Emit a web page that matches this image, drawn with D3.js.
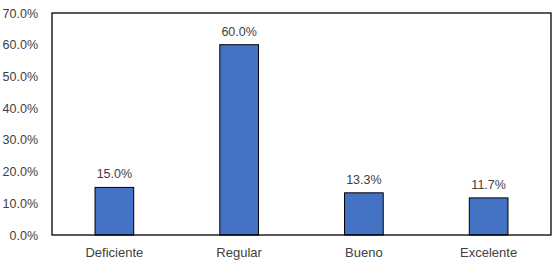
<!DOCTYPE html>
<html>
<head>
<meta charset="utf-8">
<script src="https://cdn.jsdelivr.net/npm/d3@7"></script>
<style>
  body { margin: 0; background: #fff; }
  text { font-family: "Liberation Sans", Arial, sans-serif; fill: #404040; }
</style>
</head>
<body>
<svg id="chart" width="554" height="263"></svg>
<script>
// chart data
const categories = ['Deficiente', 'Regular', 'Bueno', 'Excelente'];
const values = [0.15, 0.60, 0.133, 0.117];
const yTicks = [0, 0.1, 0.2, 0.3, 0.4, 0.5, 0.6, 0.7];

const svg = d3.select('#chart');
const margin = { top: 13, right: 3, bottom: 28, left: 52 };
const width = 554 - margin.left - margin.right;
const height = 263 - margin.top - margin.bottom;

const g = svg.append('g').attr('transform', `translate(${margin.left},${margin.top})`);

const x = d3.scaleBand().domain(categories).range([0, width])
  .paddingInner(0.69).paddingOuter(0.345);
const y = d3.scaleLinear().domain([0, 0.7]).range([height, 0]);

const fmt = d3.format('.1%');

// y tick labels (no tick marks)
const yAxis = g.append('g')
  .call(d3.axisLeft(y).tickValues(yTicks).tickFormat(fmt).tickSize(0).tickPadding(14));
yAxis.select('.domain').remove();
yAxis.selectAll('text').attr('font-size', 12.5).attr('fill', '#404040')
  .style('font-family', '"Liberation Sans", Arial, sans-serif');

// category labels
const xAxis = g.append('g').attr('transform', `translate(0,${height})`)
  .call(d3.axisBottom(x).tickSize(0).tickPadding(13));
xAxis.select('.domain').remove();
xAxis.selectAll('text').attr('font-size', 13).attr('fill', '#404040')
  .style('font-family', '"Liberation Sans", Arial, sans-serif');

// bars
g.selectAll('rect.bar')
  .data(values)
  .join('rect')
  .attr('class', 'bar')
  .attr('x', (d, i) => x(categories[i]))
  .attr('y', d => y(d))
  .attr('width', x.bandwidth())
  .attr('height', d => y(0) - y(d))
  .attr('fill', '#4472C4')
  .attr('stroke', '#000')
  .attr('stroke-width', 1);

// value labels
g.selectAll('text.val')
  .data(values)
  .join('text')
  .attr('class', 'val')
  .attr('x', (d, i) => x(categories[i]) + x.bandwidth() / 2)
  .attr('y', d => y(d) - 9)
  .attr('text-anchor', 'middle')
  .attr('font-size', 12.5)
  .text(d => fmt(d));

// plot border
g.append('rect')
  .attr('x', 0).attr('y', 0)
  .attr('width', width).attr('height', height)
  .attr('fill', 'none')
  .attr('stroke', '#000')
  .attr('stroke-width', 1.3);
</script>
</body>
</html>
